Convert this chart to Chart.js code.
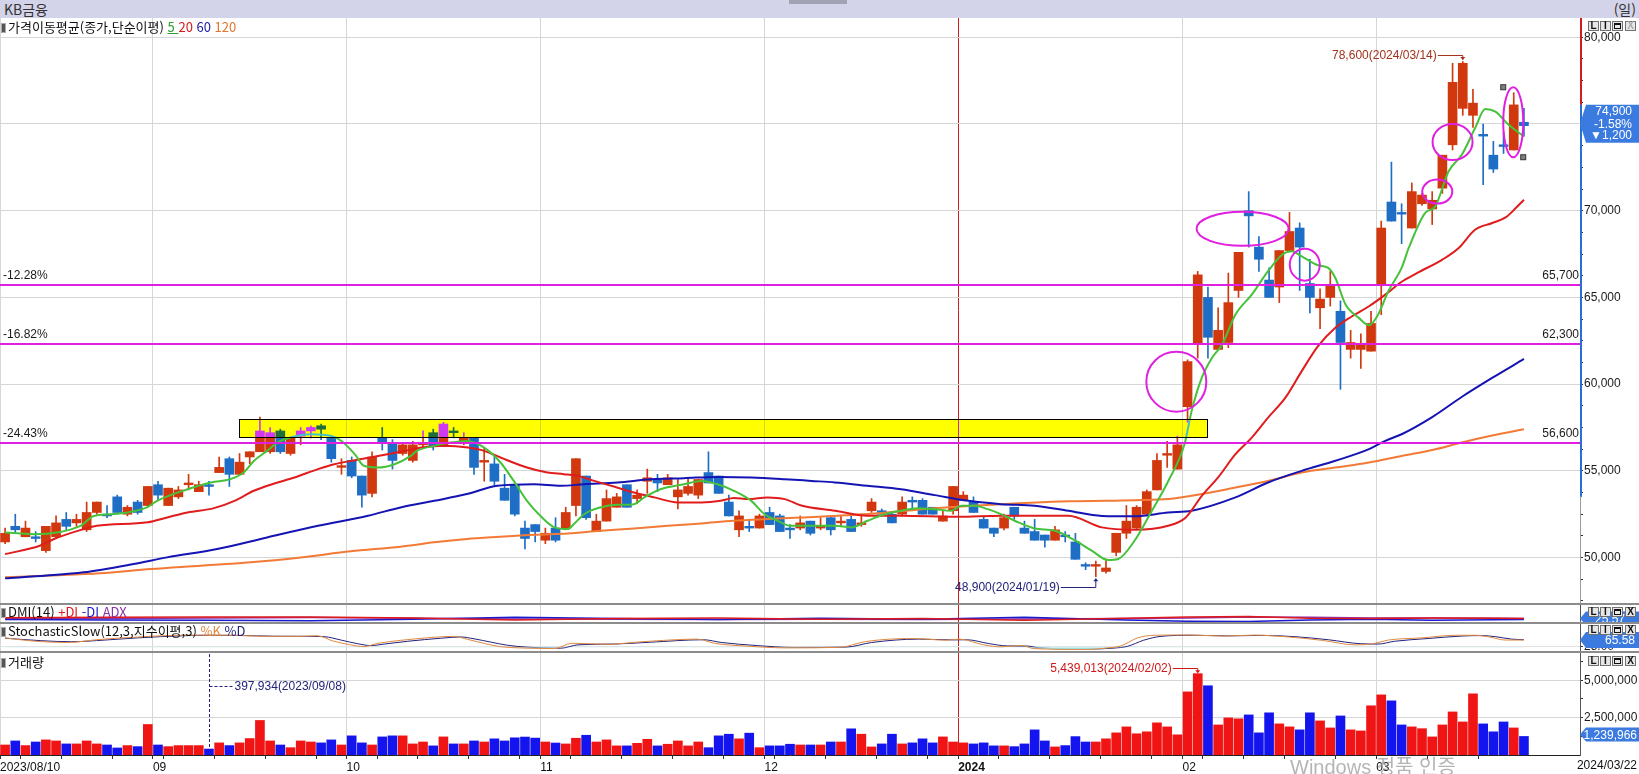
<!DOCTYPE html>
<html lang="ko">
<head>
<meta charset="utf-8">
<title>KB금융</title>
<script src="https://cdn.jsdelivr.net/npm/chart.js@4.4.1/dist/chart.umd.min.js"></script>
<style>
  html, body { margin: 0; padding: 0; background: #fff; }
  body { position: relative; width: 1639px; height: 774px; overflow: hidden;
         font-family: "Noto Sans CJK KR", "Liberation Sans", sans-serif; font-size: 12px; color: #111; }
  .pane { position: absolute; left: 0; width: 1639px; }
  #hdr { top: 0; height: 18px; background: #d3d3e9; }
  #hdr .name { position: absolute; left: 4px; top: 0; font-size: 14px; line-height: 18px; color: #333; }
  #hdr .unit { position: absolute; right: 3px; top: 0; font-size: 14px; line-height: 18px; color: #333; }
  #hdr .thumb { position: absolute; left: 789px; top: 0; width: 58px; height: 4px; background: #a2a2b4; }
  .sep { position: absolute; left: 0; width: 1639px; height: 2px; background: #8c8c8c; z-index: 3; }
  .leg { position: absolute; left: 1px; font-size: 13px; line-height: 14px; white-space: nowrap; z-index: 4; color: #111; }
  .ic { display: inline-block; width: 3px; height: 8px; background: #555; border: 1px solid #aaa; margin-right: 2px; vertical-align: -1px; }
  #wm { position: absolute; left: 1290px; top: 751px; font: 20px "Liberation Sans", "Noto Sans CJK KR", sans-serif;
        color: rgba(150,150,150,0.7); z-index: 5; white-space: nowrap; }
</style>
</head>
<body>
<div id="hdr" class="pane"><span class="name">KB금융</span><span class="unit">(일)</span><div class="thumb"></div></div>

<div class="pane" style="top:18px;height:585px"><canvas id="cMain"></canvas></div>
<div class="sep" style="top:603px"></div>
<div class="pane" style="top:605px;height:17px"><canvas id="cDmi"></canvas></div>
<div class="sep" style="top:622px"></div>
<div class="pane" style="top:624px;height:27px"><canvas id="cSto"></canvas></div>
<div class="sep" style="top:651px"></div>
<div class="pane" style="top:653px;height:121px"><canvas id="cVol"></canvas></div>

<div class="leg" style="top:20px"><i class="ic"></i>가격이동평균(종가,단순이평) <span style="color:#2f9e2f;text-decoration:underline">5 </span><span style="color:#d41818">20</span> <span style="color:#1a1aa6">60</span> <span style="color:#e0762c">120</span></div>
<div class="leg" style="top:605px"><i class="ic"></i>DMI(14) <span style="color:#e01a1a">+DI</span> <span style="color:#1a1ad0">-DI</span> <span style="color:#8a32a8">ADX</span></div>
<div class="leg" style="top:624px"><i class="ic"></i>StochasticSlow(12,3,지수이평,3) <span style="color:#e08a40">%K</span> <span style="color:#22227e">%D</span></div>
<div class="leg" style="top:655px"><i class="ic"></i>거래량</div>
<div id="wm">Windows 정품 인증</div>

<script>
// ---------- trading days ----------
const aug23 = [10,11,14,16,17,18,21,22,23,24,25,28,29,30,31];
const sep23 = [1,4,5,6,7,8,11,12,13,14,15,18,19,20,21,22,25,26,27];
const oct23 = [4,5,6,10,11,12,13,16,17,18,19,20,23,24,25,26,27,30,31];
const nov23 = [1,2,3,6,7,8,9,10,13,14,15,16,17,20,21,22,23,24,27,28,29,30];
const dec23 = [1,4,5,6,7,8,11,12,13,14,15,18,19,20,21,22,26,27,28];
const jan24 = [2,3,4,5,8,9,10,11,12,15,16,17,18,19,22,23,24,25,26,29,30,31];
const feb24 = [1,2,5,6,7,8,13,14,15,16,19,20,21,22,23,26,27,28,29];
const mar24 = [4,5,6,7,8,11,12,13,14,15,18,19,20,21,22];
const monthLabels = ['2023/08/10', '09', '10', '11', '12', '2024', '02', '03'];

// ---------- daily prices (KRW) ----------
const open = [
  50900,51800,51200,51200,50400,51200,52200,52000,51600,52600,
  52500,53500,52500,53200,53000,54200,53000,53500,54200,53800,
  54200,54900,55700,54800,55800,56100,56100,57300,56000,57000,
  57300,57600,56900,55200,55600,54700,53700,56900,56600,56000,
  55600,56500,57200,56400,57300,56600,56900,55500,55400,54000,
  54200,51700,51900,51000,51700,51700,53000,54700,51500,52100,
  52900,54200,53400,54400,54500,54200,53500,53700,53600,54900,
  54700,53200,51600,51800,51700,52600,52400,51700,51700,52100,
  51700,52300,52000,52200,51900,52700,52700,52500,52500,53300,
  53300,52900,52100,52700,53300,53200,52200,51700,51700,52900,
  51700,51500,51300,51000,51300,50900,49600,49500,49200,50300,
  51400,51700,52500,53900,55900,55100,58700,62300,65000,62000,
  62400,65400,70000,67900,66000,65600,67700,69000,65800,64400,
  65000,64200,62000,62000,61900,65700,70500,69900,69000,70400,
  70100,71300,73800,75900,75500,74400,73200,73800,73500,75100
];
const high = [
  51700,52500,52100,51500,51800,52400,52600,52500,53200,53200,
  53000,53600,53000,53300,54100,54400,54000,54100,54800,54400,
  54400,55800,55800,56000,56100,58100,57500,57400,56900,57500,
  57600,57700,56900,55700,55800,54700,56100,57500,56800,56600,
  56700,57300,57400,57800,57500,57200,56900,56300,55800,54800,
  54200,52100,51900,51700,52300,52900,55700,54700,52500,53900,
  53700,54200,53900,55100,54800,54800,54500,54600,54500,56100,
  54700,53600,52700,52200,52500,52900,52500,51900,52400,52100,
  52300,52400,52400,52400,52500,53400,52800,52600,53500,53500,
  53400,52900,52700,54100,53800,53500,52400,51700,52500,52900,
  52100,52200,51300,51800,51500,51400,49700,49800,49900,51400,
  53000,53000,53900,56000,56700,57000,61400,66500,65600,64400,
  66400,67600,71100,68500,66700,67700,69900,69300,67200,65500,
  66500,64800,63100,62900,64200,69400,72800,70400,71600,71000,
  71100,73200,78500,78600,77000,75000,74000,74500,76800,75900
];
const low = [
  50800,51400,51200,50900,50300,51100,51600,51800,51500,52500,
  52300,52600,52400,52500,52900,53300,53000,53400,53900,53800,
  53600,54900,54100,54800,55400,56100,56000,56000,55900,56500,
  56900,56800,55500,54800,54600,52900,53500,56200,55100,55900,
  55500,56300,56200,56400,56900,56500,54800,54400,54200,53300,
  52400,50500,50900,50800,50900,51600,52400,52200,51500,52100,
  52900,52900,53100,53700,53800,54200,52800,53600,53400,54300,
  53700,52400,51200,51500,51700,51900,51500,51100,51600,51300,
  51600,51300,51800,51500,51800,52600,52400,52000,52400,52700,
  52500,52500,52100,52500,53300,52600,51700,51200,51600,52200,
  51400,51000,50600,51000,50900,49900,49300,48900,49100,50100,
  51100,51600,52500,53900,55200,55100,57800,61500,61500,62000,
  62100,65000,67900,66500,65000,64700,67700,65400,64100,63200,
  64500,59700,61500,60900,61900,64000,69400,68100,69000,70300,
  69200,71000,73500,75500,74800,71500,72200,73300,73500,74300
];
const close = [
  51400,51600,51700,51100,51800,52000,51800,52200,52600,53200,
  52400,52600,52900,52600,54100,53600,54000,53900,54300,54200,
  54100,55200,54800,55500,56100,57300,57200,56100,56900,57300,
  57500,57400,55700,55300,54700,53600,55800,56600,55600,56500,
  56500,56600,56400,57700,57200,56900,55200,55600,54400,53300,
  52500,51100,51500,51400,51000,52600,55700,52300,52100,53400,
  53500,52900,53600,54600,54300,54600,53900,54100,54500,54300,
  53700,52400,52400,51700,52400,51900,51500,51600,52000,51400,
  51800,51600,52100,51500,52000,53200,52500,52000,53200,53200,
  52500,52500,52400,54100,53600,52600,51700,51400,52300,52400,
  51400,51000,51000,51600,51200,49900,49500,49600,49400,51400,
  52100,52900,53800,55600,56000,56500,61300,66300,62700,63100,
  64700,67600,69700,67200,65000,67700,68800,67900,65000,64900,
  65700,62400,62400,62300,63500,69000,69400,69800,71100,70900,
  70600,73200,77400,78500,76200,74300,72400,73700,76100,74900
];
const volume = [
  670000,940000,630000,870000,1010000,940000,740000,740000,940000,740000,
  670000,470000,630000,560000,2040000,670000,560000,630000,630000,630000,
  397934,810000,630000,810000,1100000,2310000,940000,670000,490000,940000,
  870000,810000,1010000,670000,1280000,810000,670000,1210000,1280000,1280000,
  740000,870000,610000,1210000,740000,740000,940000,870000,1080000,940000,
  1150000,1200000,1130000,870000,800000,740000,1120000,1320000,870000,1010000,
  610000,610000,780000,1050000,610000,720000,940000,610000,870000,490000,
  1280000,1390000,1080000,1460000,490000,610000,610000,720000,670000,670000,
  670000,870000,870000,1750000,1390000,540000,740000,1390000,740000,810000,
  1080000,810000,1210000,870000,810000,740000,810000,610000,610000,560000,
  740000,1680000,940000,540000,630000,1230000,870000,870000,1080000,1480000,
  1880000,1420000,1550000,2150000,1880000,1350000,4220000,5439013,4630000,2010000,
  2480000,2420000,2680000,1480000,2820000,2080000,1880000,1680000,2820000,2280000,
  1810000,2610000,1680000,1610000,3290000,4020000,3620000,2010000,1880000,1760000,
  1210000,2010000,2880000,2210000,4090000,2080000,1550000,2210000,1810000,1239966
];

// ---------- moving averages: [day index, price] ----------
const ma5 = [[0,51450],[2.8,51350],[7.4,51830],[8.7,52400],[10.3,52500],[12,52600],[13.9,52890],[14.9,53270],[17.9,53940],[20.2,54330],[22.1,54520],[23.4,54900],[24.4,55570],[25.7,56150],[26.7,56630],[28,56920],[30,57110],[32,57010],[33,56720],[34.3,55960],[35.2,55290],[36.6,55190],[38.2,55380],[39.8,55860],[40.4,56150],[42.1,56440],[43.7,56630],[45.3,56720],[47,56340],[48.6,55480],[49.9,54420],[51.2,53270],[52.5,52410],[53.9,51740],[55.2,51640],[55.8,51930],[56.8,52500],[58.4,52890],[60.1,53040],[61.7,53080],[62.7,53470],[64.3,53940],[66.6,54230],[68.3,54420],[69.9,54230],[71.5,53850],[73.2,53270],[74.5,52500],[75.8,52120],[77.1,51830],[79.1,51830],[81.4,51830],[83,51740],[84.6,52120],[86.3,52500],[87.9,52700],[89.5,52850],[91.2,52790],[92.8,52700],[93.8,52990],[95.1,52990],[96.4,52790],[97.7,52500],[99.4,52030],[101,51680],[103,51550],[105,50970],[106.6,50400],[108.2,49860],[109.2,49920],[110.8,50970],[112.5,52700],[114.1,54400],[115.7,56530],[116.4,58450],[117.4,60370],[118.4,61520],[119.4,62290],[120.7,64010],[122.3,65160],[123.9,66510],[125.3,67470],[126.2,67660],[127.2,67370],[128.8,66850],[129.8,66700],[130.5,66120],[131.5,64590],[132.8,63820],[133.8,63400],[134.7,64010],[135.7,65360],[137,66700],[137.7,67850],[139.3,69860],[140.3,70250],[141.6,72260],[142.9,73220],[144.2,74750],[145.2,75870],[146.2,75710],[147.5,74950],[149,74280]];
const ma20 = [[0,50200],[3.4,50680],[4.8,51070],[7.7,51640],[9,51830],[14,52030],[15.9,52310],[17.9,52600],[20.5,52850],[22.5,53270],[24.4,53850],[26.4,54270],[28.4,54620],[30.7,55100],[32.3,55380],[34.3,55610],[38.8,56100],[40.8,56340],[43.1,56440],[45.4,56340],[47,56150],[48.6,55770],[51.2,55190],[53.2,54900],[54.8,54810],[56.2,54710],[57.8,54420],[59.8,54080],[61.7,53750],[63.7,53470],[66,53180],[68.3,53180],[70.2,53270],[71.5,53430],[72.9,53370],[74.8,53470],[76.5,53370],[78.1,53000],[81.4,52700],[84.6,52410],[87.9,52410],[93.5,52350],[97.7,52410],[104.3,52410],[107.6,51740],[110.8,51600],[114.1,51830],[115.8,52300],[117.4,53560],[119,54620],[120.7,55960],[122.3,56920],[123.9,58070],[125.6,59220],[127.2,60750],[128.8,62190],[130.5,63250],[132.1,63900],[133.8,64490],[135.4,65160],[137,65900],[138.5,66400],[141,67180],[142.6,67850],[144.2,68900],[145.9,69290],[147.2,69610],[148.2,70150],[149,70630]];
const ma60 = [[0,48800],[4.1,48960],[7.7,49150],[12.6,49630],[15.9,50010],[20.8,50490],[25.7,51160],[30.7,51830],[35.6,52410],[38.8,52890],[42.1,53270],[45.3,53660],[48.3,54140],[51.9,54230],[54.5,54140],[56.8,54230],[60.1,54330],[63.4,54520],[66.6,54580],[69.9,54650],[73.2,54620],[76.5,54520],[79.1,54420],[81.4,54330],[84.6,54140],[87.9,53940],[91.2,53600],[94.5,53270],[97.7,53080],[101,52990],[104.3,52700],[107.6,52400],[110.8,52380],[114.1,52600],[116.4,52700],[120.7,53470],[123.9,54330],[127.2,55000],[130.5,55580],[133.8,56250],[135.4,56730],[137,57110],[140,58100],[143,59300],[146,60400],[149,61450]];
const ma120 = [[0,48860],[4.4,48960],[9.3,49090],[14.3,49340],[19.2,49530],[24.1,49730],[29,50010],[33.9,50360],[38.8,50630],[42.1,50880],[45.3,51070],[48.6,51200],[51.9,51320],[55.2,51390],[58.4,51550],[61.7,51680],[65,51830],[68.3,51970],[71.5,52120],[74.8,52220],[78.1,52310],[84.6,52510],[91.2,52850],[97.7,53080],[104.3,53240],[110.8,53310],[114.1,53370],[117.4,53660],[120.7,54040],[123.9,54420],[127.2,54900],[130.5,55190],[133.8,55480],[137,55860],[140,56200],[143,56650],[146,57050],[149,57400]];

// ---------- indicators: [day index, value] ----------
const plusDI  = [[0,25],[10,28],[20,30],[30,30],[40,24],[50,12],[60,20],[70,24],[80,16],[90,20],[100,10],[110,22],[116,30],[122,33],[128,22],[134,20],[140,24],[146,22],[149,21]];
const minusDI = [[0,15],[10,12],[20,10],[30,8],[40,16],[50,28],[60,20],[70,14],[80,22],[90,16],[100,28],[110,12],[116,5],[122,3],[128,12],[134,16],[140,10],[146,13],[149,14]];
const adx     = [[0,22],[10,20],[20,24],[30,26],[40,22],[50,18],[60,16],[70,15],[80,16],[90,15],[100,18],[110,20],[116,24],[122,30],[128,28],[134,24],[140,23],[146,22],[149,21]];
const stochK = [[0,80],[2.8,59],[6.1,50],[9.3,70],[12.6,84],[16.9,97],[19.2,98],[22.4,97],[25.7,90],[29,90],[30.6,94],[32.2,59],[33.9,35],[35.2,23],[36.5,44],[38.8,64],[42.1,84],[44,90],[45.4,70],[47,44],[48.6,23],[50.5,15],[53.9,11],[55.6,45],[59.1,39],[62.7,56],[67.9,72],[69.6,45],[73.2,25],[76.7,15],[81.9,19],[84.4,56],[89,76],[92.4,65],[93.6,72],[96,35],[97.7,22],[99.7,31],[100.9,11],[105.7,5],[108.2,15],[109.5,29],[111.1,80],[112.8,97],[116,99],[119.4,92],[122.6,98],[125.9,86],[129.2,64],[132.4,35],[134.1,41],[135.7,66],[139,80],[142.3,97],[144.2,97],[145.6,86],[147.2,66],[149,66]];
const stochD = [[0,78],[3.5,62],[6.5,55],[9.8,66],[13,80],[17.5,94],[20,97],[23,96],[26.3,91],[29.5,90],[31.3,88],[33,65],[34.6,42],[35.9,30],[37.2,40],[39.5,58],[42.8,78],[44.7,86],[46,74],[47.7,52],[49.3,32],[51.2,20],[54.5,13],[56.2,35],[59.7,40],[63.3,52],[68.5,68],[70.3,50],[73.8,30],[77.3,18],[82.5,20],[85,50],[89.6,72],[93,67],[94.3,68],[96.6,42],[98.3,28],[100.3,27],[101.5,15],[106.3,8],[108.8,14],[110.1,25],[111.7,65],[113.4,90],[116.6,97],[120,93],[123.2,96],[126.5,88],[129.8,68],[133,42],[134.7,40],[136.3,58],[139.6,76],[142.9,92],[144.8,95],[146.2,88],[147.8,72],[149,68]];

// ---------- axis ticks and drawn levels ----------
const priceLabels = [50000, 55000, 60000, 65000, 70000, 75000, 80000];
const volLabels = [2500000, 5000000];
const levels = [65700, 62300, 56600];

// ---------- layout constants ----------
const SLOTS = 155;                 // 150 trading days + empty room on the right
const PRICE_MIN = 47380, PRICE_MAX = 81110;
const VOL_MAX = 6820000;
const AXIS_W = 59;
const FONT = '12px "Liberation Sans", "DejaVu Sans", sans-serif';
const C = {
  up: '#d1380d', down: '#1f6ec6', volUp: '#f01414', volDown: '#1414ee',
  ma5: '#46c23a', ma20: '#e01c1c', ma60: '#1414b4', ma120: '#f27a36',
  magenta: '#e020e0', grid: '#d6d6d6', tag: '#3b7be0'
};

const dates = [['2023/08', aug23], ['2023/09', sep23], ['2023/10', oct23], ['2023/11', nov23],
               ['2023/12', dec23], ['2024/01', jan24], ['2024/02', feb24], ['2024/03', mar24]]
  .flatMap(([ym, days]) => days.map(d => ym + '/' + String(d).padStart(2, '0')));
const dow = d => new Date(d.replace(/\//g, '-') + 'T00:00:00').getDay();
const fmt = v => Math.round(v).toLocaleString('en-US');

const monthTicks = [], weekTicks = [];
dates.forEach((d, i) => {
  if (i === 0 || d.slice(5, 7) !== dates[i - 1].slice(5, 7)) {
    const lab = monthLabels[monthTicks.length];
    monthTicks.push({ value: i - 0.5, month: true, year: lab === '2024', lab });
  } else if (dow(d) < dow(dates[i - 1])) {
    weekTicks.push({ value: i - 0.5 });
  }
});
const allTicks = monthTicks.concat(weekTicks).sort((a, b) => a.value - b.value);

const isUp = i => close[i] >= open[i];
const candleColors = dates.map((d, i) => isUp(i) ? C.up : C.down);
const volColors = dates.map((d, i) => isUp(i) ? C.volUp : C.volDown);

Chart.defaults.font.family = '"Liberation Sans", "DejaVu Sans", sans-serif';
Chart.defaults.font.size = 12;
Chart.defaults.color = '#1a1a1a';
Chart.defaults.animation = false;
Chart.defaults.plugins.legend.display = false;
Chart.defaults.plugins.tooltip.enabled = false;

function xAxis(withLabels) {
  return {
    type: 'linear', min: -0.5, max: SLOTS - 0.5, offset: false,
    border: { display: withLabels, color: '#222' },
    grid: {
      offset: false,
      color: ctx => ctx.tick && ctx.tick.month ? (ctx.tick.year ? '#d01c1c' : C.grid) : 'rgba(0,0,0,0)',
      drawTicks: withLabels, tickLength: 4, tickColor: '#333'
    },
    ticks: {
      display: withLabels, autoSkip: false, maxRotation: 0, minRotation: 0, align: 'start', padding: 1,
      color: '#111',
      font: ctx => ({ size: 12, weight: ctx.tick && ctx.tick.year ? 'bold' : 'normal' }),
      callback: (v, i, t) => t[i].lab || ''
    },
    afterBuildTicks: s => { s.ticks = (withLabels ? allTicks : monthTicks).map(t => Object.assign({}, t)); },
    afterFit: s => { s.height = withLabels ? 19 : 0; s.paddingLeft = 0; s.paddingRight = 0; }
  };
}
function fitRight(s) { s.width = AXIS_W; s.paddingTop = 0; s.paddingBottom = 0; }
const pts = arr => arr.map(([x, y]) => ({ x, y }));
const line = (arr, color, width, order, extra) => Object.assign({
  type: 'line', data: pts(arr), borderColor: color, borderWidth: width, pointRadius: 0,
  cubicInterpolationMode: 'monotone', fill: false, order
}, extra || {});

const whiteBg = {
  id: 'whiteBg',
  beforeDraw(chart) { const c = chart.ctx; c.save(); c.fillStyle = '#fff'; c.fillRect(0, 0, chart.width, chart.height); c.restore(); }
};

function drawButtons(c, top, greyX) {
  const xs = [1588, 1600, 1612, 1625];
  c.save();
  xs.forEach((x0, k) => {
    c.fillStyle = '#e6e6e6'; c.fillRect(x0, top, 11, 10);
    c.strokeStyle = '#707070'; c.lineWidth = 1; c.strokeRect(x0 + 0.5, top + 0.5, 10, 9);
    c.fillStyle = (k === 3 && greyX) ? '#aaa' : '#111';
    c.strokeStyle = c.fillStyle;
    if (k === 2) {
      c.strokeRect(x0 + 2.5, top + 2.5, 6, 5); c.fillRect(x0 + 2, top + 2, 7, 2);
    } else {
      c.font = 'bold 10px "Liberation Sans", sans-serif'; c.textAlign = 'center'; c.textBaseline = 'middle';
      c.fillText(['L', 'I', '', 'X'][k], x0 + 5.5, top + 5.5);
    }
  });
  c.restore();
}
function drawTag(c, tipY, top, bottom, lines, textRight, font) {
  c.save();
  c.fillStyle = C.tag;
  c.beginPath();
  c.moveTo(1580, tipY); c.lineTo(1586, top); c.lineTo(1639, top);
  c.lineTo(1639, bottom); c.lineTo(1586, bottom); c.closePath(); c.fill();
  c.fillStyle = '#fff'; c.font = font || FONT; c.textAlign = 'right'; c.textBaseline = 'middle';
  lines.forEach(([t, y]) => c.fillText(t, textRight, y));
  c.restore();
}

// ---------- price panel ----------
const hiIdx = high.indexOf(Math.max(...high));
const loIdx = low.indexOf(Math.min(...low));
const lastClose = close[close.length - 1], prevClose = close[close.length - 2];
const boxRange = { i0: 22.98, i1: 117.9, p0: 56930, p1: 57970 };
const ellipses = [
  { i: 114.9, p: 60140, rx: 30, ry: 30 },
  { i: 121.4, p: 68956, rx: 46, ry: 17 },
  { i: 127.5, p: 66890, rx: 15, ry: 16 },
  { i: 142.0, p: 73960, rx: 20, ry: 18 },
  { i: 140.5, p: 71100, rx: 15, ry: 12 },
  { i: 147.95, p: 75100, rx: 10, ry: 35, handles: true }
];

const priceDecor = {
  id: 'priceDecor',
  afterDatasetsDraw(chart) {
    const { ctx: c, scales: { x, y }, chartArea: a } = chart;
    c.save();
    // highlight box: the original pen inverts only the blue channel
    const bx0 = x.getPixelForValue(boxRange.i0), bx1 = x.getPixelForValue(boxRange.i1);
    const by0 = y.getPixelForValue(boxRange.p1), by1 = y.getPixelForValue(boxRange.p0);
    c.globalCompositeOperation = 'difference';
    c.fillStyle = '#0000ff';
    c.fillRect(bx0, by0, bx1 - bx0, by1 - by0);
    c.globalCompositeOperation = 'source-over';
    c.strokeStyle = '#000'; c.lineWidth = 1;
    c.strokeRect(Math.round(bx0) + 0.5, Math.round(by0) + 0.5, Math.round(bx1 - bx0), Math.round(by1 - by0));

    // horizontal levels with % distance from the last close
    c.font = FONT; c.textBaseline = 'middle';
    levels.forEach(v => {
      const py = Math.round(y.getPixelForValue(v));
      c.strokeStyle = C.magenta; c.lineWidth = 2;
      c.beginPath(); c.moveTo(a.left, py); c.lineTo(a.right, py); c.stroke();
      c.fillStyle = '#1a1a1a';
      c.textAlign = 'left';
      c.fillText(((v - lastClose) / lastClose * 100).toFixed(2) + '%', 3, py - 9);
      c.textAlign = 'right';
      c.fillText(fmt(v), a.right - 1, py - 9);
    });

    // hand-drawn ellipses
    c.strokeStyle = C.magenta; c.lineWidth = 2;
    ellipses.forEach(e => {
      const ex = x.getPixelForValue(e.i), ey = y.getPixelForValue(e.p);
      c.beginPath(); c.ellipse(ex, ey, e.rx, e.ry, 0, 0, Math.PI * 2); c.stroke();
      if (e.handles) {
        c.fillStyle = '#808080'; c.strokeStyle = '#333'; c.lineWidth = 1;
        [[ex - e.rx, ey - e.ry], [ex + e.rx, ey + e.ry]].forEach(([hx, hy]) => {
          c.fillRect(hx - 2.5, hy - 2.5, 5, 5); c.strokeRect(hx - 2.5, hy - 2.5, 5, 5);
        });
        c.strokeStyle = C.magenta; c.lineWidth = 2;
      }
    });

    // period high marker
    const hx = x.getPixelForValue(hiIdx), hy = y.getPixelForValue(high[hiIdx]);
    const hly = Math.round(hy - 6.5) + 0.5;
    c.fillStyle = c.strokeStyle = '#a3311c'; c.lineWidth = 1;
    c.textAlign = 'right';
    c.fillText(fmt(high[hiIdx]) + '(' + dates[hiIdx] + ')', hx - 26, hly);
    c.beginPath(); c.moveTo(hx - 25, hly); c.lineTo(hx, hly); c.lineTo(hx, hy - 2); c.stroke();
    c.beginPath(); c.moveTo(hx - 2.5, hy - 4.5); c.lineTo(hx + 2.5, hy - 4.5); c.lineTo(hx, hy - 1.5); c.fill();

    // period low marker
    const lx = x.getPixelForValue(loIdx), ly = y.getPixelForValue(low[loIdx]);
    const lly = Math.round(ly + 10.5) + 0.5;
    c.fillStyle = c.strokeStyle = '#23237a';
    c.fillText(fmt(low[loIdx]) + '(' + dates[loIdx] + ')', lx - 36, lly);
    c.beginPath(); c.moveTo(lx - 35, lly); c.lineTo(lx, lly); c.lineTo(lx, ly + 2); c.stroke();
    c.beginPath(); c.moveTo(lx - 2.5, ly + 4.5); c.lineTo(lx + 2.5, ly + 4.5); c.lineTo(lx, ly + 1.5); c.fill();
    c.restore();
  },
  afterDraw(chart) {
    const { ctx: c, scales: { y }, chartArea: a } = chart;
    c.save();
    const yPrev = y.getPixelForValue(prevClose);
    c.fillStyle = '#d01c1c'; c.fillRect(a.right, a.top, 2, yPrev - a.top);
    c.fillStyle = '#2a6fd6'; c.fillRect(a.right, yPrev, 2, y.getPixelForValue(53500) - yPrev);
    c.fillStyle = '#9a9a9a'; c.fillRect(a.right, y.getPixelForValue(53500), 1, a.bottom - y.getPixelForValue(53500));
    c.restore();
    const ty = y.getPixelForValue(lastClose);
    const diff = lastClose - prevClose;
    drawTag(c, ty - 2, ty - 21, ty + 17, [
      [fmt(lastClose), ty - 14], [(diff / prevClose * 100).toFixed(2) + '%', ty - 1],
      [(diff < 0 ? '▼' : '▲') + fmt(Math.abs(diff)), ty + 10]
    ], 1632);
    drawButtons(c, 3, true);
  }
};

new Chart(document.getElementById('cMain'), {
  type: 'bar',
  data: {
    datasets: [
      { type: 'bar', data: dates.map((d, i) => ({ x: i, y: [low[i], high[i]] })), backgroundColor: candleColors,
        barThickness: 1, grouped: false, order: 11 },
      { type: 'bar', data: dates.map((d, i) => ({ x: i, y: [open[i], close[i]] })), backgroundColor: candleColors,
        barThickness: 9, grouped: false, minBarLength: 1, order: 10 },
      line(ma120, C.ma120, 2, 4),
      line(ma60, C.ma60, 2, 3),
      line(ma20, C.ma20, 2, 2),
      line(ma5, C.ma5, 2, 1)
    ]
  },
  options: {
    responsive: true, maintainAspectRatio: false, devicePixelRatio: 1,
    layout: { padding: 0 },
    scales: {
      x: xAxis(false),
      y: {
        position: 'right', min: PRICE_MIN, max: PRICE_MAX,
        border: { display: false },
        grid: { color: ctx => ctx.tick && ctx.tick.lab ? C.grid : 'rgba(0,0,0,0)', tickLength: 3, tickColor: '#333' },
        ticks: { padding: 1, color: '#1a1a1a', callback: (v, i, t) => t[i].lab || '' },
        afterBuildTicks: s => {
          const t = [];
          for (let v = priceLabels[0] - 2500; v <= priceLabels[priceLabels.length - 1]; v += 1250) {
            t.push({ value: v, lab: priceLabels.includes(v) ? fmt(v) : '' });
          }
          s.ticks = t;
        },
        afterFit: fitRight
      }
    }
  },
  plugins: [whiteBg, priceDecor]
});

// ---------- DMI panel ----------
new Chart(document.getElementById('cDmi'), {
  type: 'line',
  data: {
    datasets: [
      line(adx, '#8a32a8', 1.5, 3, { cubicInterpolationMode: 'default', tension: 0 }),
      line(minusDI, '#1a1ad0', 1.5, 2, { cubicInterpolationMode: 'default', tension: 0 }),
      line(plusDI, '#e01a1a', 1.5, 1, { cubicInterpolationMode: 'default', tension: 0 })
    ]
  },
  options: {
    responsive: true, maintainAspectRatio: false, devicePixelRatio: 1,
    scales: {
      x: xAxis(false),
      y: { position: 'right', min: 0, max: 100, border: { display: true, color: '#555' },
           grid: { display: false }, ticks: { display: false }, afterFit: fitRight }
    }
  },
  plugins: [whiteBg, {
    id: 'dmiDecor',
    afterDraw(chart) {
      const c = chart.ctx, y = chart.scales.y;
      const ty = y.getPixelForValue(adx[adx.length - 1][1]);
      drawTag(c, ty, ty - 7, ty + 7, [['25.57', ty + 1]], 1625);
      drawButtons(c, 2, false);
    }
  }]
});

// ---------- Stochastic panel ----------
new Chart(document.getElementById('cSto'), {
  type: 'line',
  data: {
    datasets: [
      line(stochD, '#22227e', 1, 2),
      line(stochK, '#e08a40', 1, 1, { fill: { target: { value: 20 }, above: 'rgba(0,0,0,0)', below: '#9fe4ea' } })
    ]
  },
  options: {
    responsive: true, maintainAspectRatio: false, devicePixelRatio: 1,
    scales: {
      x: xAxis(false),
      y: { position: 'right', min: -5, max: 170, border: { display: true, color: '#555' },
           grid: { color: '#e2e2e2', tickLength: 3, tickColor: '#333' },
           ticks: { padding: 1, color: '#1a1a1a', callback: v => v === 25 ? '25.00' : '' },
           afterBuildTicks: s => { s.ticks = [{ value: 25 }, { value: 75 }]; },
           afterFit: fitRight }
    }
  },
  plugins: [whiteBg, {
    id: 'stoDecor',
    afterDraw(chart) {
      const c = chart.ctx, y = chart.scales.y;
      const last = stochK[stochK.length - 1][1] - 0.42;
      const ty = y.getPixelForValue(last);
      drawTag(c, ty, ty - 8, ty + 8, [[last.toFixed(2), ty + 1]], 1635);
      drawButtons(c, 1, false);
    }
  }]
});

// ---------- Volume panel ----------
const vHi = volume.indexOf(Math.max(...volume));
const vLo = volume.indexOf(Math.min(...volume));
new Chart(document.getElementById('cVol'), {
  type: 'bar',
  data: {
    datasets: [{ data: dates.map((d, i) => ({ x: i, y: volume[i] })), backgroundColor: volColors, barThickness: 9 }]
  },
  options: {
    responsive: true, maintainAspectRatio: false, devicePixelRatio: 1,
    scales: {
      x: xAxis(true),
      y: {
        position: 'right', min: 0, max: VOL_MAX,
        border: { display: true, color: '#555' },
        grid: { color: ctx => ctx.tick && ctx.tick.lab ? C.grid : 'rgba(0,0,0,0)', tickLength: 3, tickColor: '#333' },
        ticks: { padding: 1, color: '#1a1a1a', callback: (v, i, t) => t[i].lab || '' },
        afterBuildTicks: s => {
          const t = [];
          for (let v = 1250000; v < VOL_MAX; v += 1250000) t.push({ value: v, lab: volLabels.includes(v) ? fmt(v) : '' });
          s.ticks = t;
        },
        afterFit: fitRight
      }
    }
  },
  plugins: [whiteBg, {
    id: 'volDecor',
    afterDatasetsDraw(chart) {
      const { ctx: c, scales: { x, y }, chartArea: a } = chart;
      c.save();
      c.font = FONT; c.textBaseline = 'middle';
      // largest volume
      const hx = x.getPixelForValue(vHi), hy = y.getPixelForValue(volume[vHi]);
      const hly = Math.round(hy - 5.5) + 0.5;
      c.fillStyle = c.strokeStyle = '#d01818'; c.lineWidth = 1; c.textAlign = 'right';
      c.fillText(fmt(volume[vHi]) + '(' + dates[vHi] + ')', hx - 26, hly);
      c.beginPath(); c.moveTo(hx - 25, hly); c.lineTo(hx, hly); c.lineTo(hx, hy - 1); c.stroke();
      c.beginPath(); c.moveTo(hx - 2.5, hy - 3.5); c.lineTo(hx + 2.5, hy - 3.5); c.lineTo(hx, hy - 0.5); c.fill();
      // smallest volume
      const lx = Math.round(x.getPixelForValue(vLo)) + 0.5, ly = y.getPixelForValue(volume[vLo]);
      const lly = a.top + 33.5;
      c.fillStyle = c.strokeStyle = '#23237a'; c.setLineDash([3, 2]);
      c.beginPath(); c.moveTo(lx, a.top + 1); c.lineTo(lx, ly - 1); c.moveTo(lx, lly); c.lineTo(lx + 23, lly); c.stroke();
      c.setLineDash([]); c.textAlign = 'left';
      c.fillText(fmt(volume[vLo]) + '(' + dates[vLo] + ')', lx + 25, lly);
      c.restore();
    },
    afterDraw(chart) {
      const { ctx: c, scales: { y }, chartArea: a } = chart;
      const last = volume[volume.length - 1];
      const ty = y.getPixelForValue(last) - 2;
      drawTag(c, ty, ty - 7, ty + 7, [[fmt(last), ty + 1]], 1637);
      drawButtons(c, 3, false);
      c.save();
      c.font = FONT; c.fillStyle = '#111'; c.textAlign = 'right'; c.textBaseline = 'middle';
      c.fillText(dates[dates.length - 1], 1637, a.bottom + 11);
      c.restore();
    }
  }]
});
</script>
</body>
</html>
